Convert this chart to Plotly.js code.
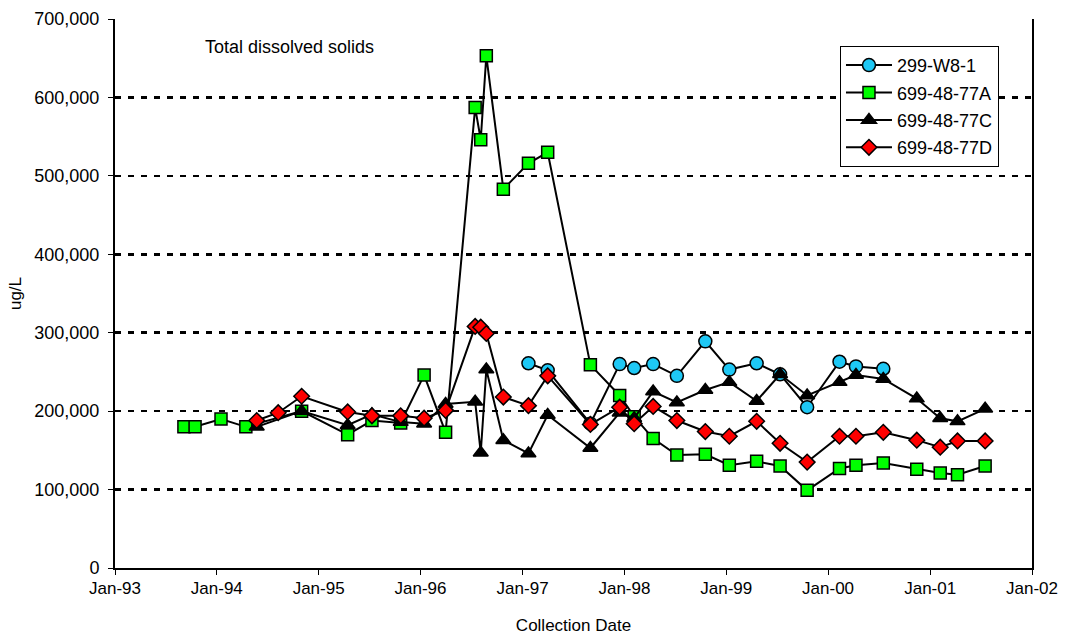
<!DOCTYPE html>
<html>
<head>
<meta charset="utf-8">
<script src="https://cdn.plot.ly/plotly-3.0.1.min.js"></script>
<style>html,body{margin:0;padding:0;background:#fff;}#chart{width:1065px;height:637px;}</style>
</head>
<body>
<div id="chart"></div>
<script>
// ---- data ----
const w81Dates = ['1997-01-22','1997-04-01','1997-09-01','1997-12-15','1998-02-05','1998-04-14','1998-07-08','1998-10-18','1999-01-12','1999-04-20','1999-07-13','1999-10-18','2000-02-11','2000-04-10','2000-07-17'];
const w81Values = [261000,252000,184000,260000,255000,260000,245000,289000,253000,261000,247000,205000,263000,257000,254000];

const a77Dates = ['1993-09-05','1993-10-15','1994-01-16','1994-04-15','1994-11-01','1995-04-15','1995-07-11','1995-10-22','1996-01-14','1996-03-31','1996-07-15','1996-08-04','1996-08-24','1996-10-24','1997-01-22','1997-04-01','1997-09-01','1997-12-15','1998-02-05','1998-04-14','1998-07-08','1998-10-18','1999-01-12','1999-04-20','1999-07-13','1999-10-18','2000-02-11','2000-04-10','2000-07-17','2000-11-14','2001-02-06','2001-04-09','2001-07-17'];
const a77Values = [180000,180000,190000,180000,200000,170000,188000,185000,246000,173000,587000,546000,653000,483000,516000,530000,259000,220000,193000,165000,144000,145000,131000,136000,130000,99000,127000,131000,134000,126000,121000,119000,130000];

const c77Dates = ['1994-05-24','1994-11-01','1995-04-15','1995-07-11','1995-10-22','1996-01-14','1996-03-31','1996-07-15','1996-08-04','1996-08-24','1996-10-24','1997-01-22','1997-04-01','1997-09-01','1997-12-15','1998-02-05','1998-04-14','1998-07-08','1998-10-18','1999-01-12','1999-04-20','1999-07-13','1999-10-18','2000-02-11','2000-04-10','2000-07-17','2000-11-14','2001-02-06','2001-04-09','2001-07-17'];
const c77Values = [180000,200000,182000,196000,186000,184000,209000,212000,147000,253000,163000,146000,195000,153000,198000,191000,225000,211000,227000,237000,213000,247000,220000,237000,246000,241000,216000,191000,187000,203000];

const d77Dates = ['1994-05-24','1994-08-09','1994-11-01','1995-04-15','1995-07-11','1995-10-22','1996-01-14','1996-03-31','1996-07-15','1996-08-04','1996-08-24','1996-10-24','1997-01-22','1997-04-01','1997-09-01','1997-12-15','1998-02-05','1998-04-14','1998-07-08','1998-10-18','1999-01-12','1999-04-20','1999-07-13','1999-10-18','2000-02-11','2000-04-10','2000-07-17','2000-11-14','2001-02-06','2001-04-09','2001-07-17'];
const d77Values = [188000,198000,219000,199000,194000,194000,191000,201000,308000,307000,299000,218000,207000,245000,183000,205000,184000,206000,188000,174000,168000,187000,159000,135000,168000,168000,173000,163000,154000,162000,162000];

const seriesNames = ['299-W8-1','699-48-77A','699-48-77C','699-48-77D'];
const yTickVals = [0,100000,200000,300000,400000,500000,600000,700000];
const yTickText = ['0','100,000','200,000','300,000','400,000','500,000','600,000','700,000'];

// ---- chart ----
const FONT = 'Liberation Sans, Arial, sans-serif';
function tr(name, x, y, symbol, color, size) {
  return {
    type: 'scatter', mode: 'lines+markers', name: name, x: x, y: y,
    legendgroup: name,
    line: {color: '#000', width: 2},
    marker: {symbol: symbol, color: color, size: size, line: {color: '#000', width: 1.5}}
  };
}
const data = [
  tr(seriesNames[0], w81Dates, w81Values, 'circle', '#1ec8f5', 13),
  tr(seriesNames[1], a77Dates, a77Values, 'square', '#00ff00', 12),
  tr(seriesNames[2], c77Dates, c77Values, 'triangle-up', '#000000', 13),
  tr(seriesNames[3], d77Dates, d77Values, 'diamond', '#ff0000', 12)
];
const layout = {
  width: 1065, height: 637,
  margin: {l: 115, r: 33, t: 19, b: 69},
  paper_bgcolor: '#fff', plot_bgcolor: '#fff',
  font: {family: FONT, size: 17, color: '#000'},
  showlegend: true,
  legend: {
    x: 0.7906, y: 0.951, xanchor: 'left', yanchor: 'top',
    bgcolor: '#fff', bordercolor: '#000', borderwidth: 1,
    font: {family: FONT, size: 18, color: '#000'},
    traceorder: 'grouped', tracegroupgap: 1, itemwidth: 46
  },
  xaxis: {
    type: 'date',
    range: ['1993-01-01', '2002-01-01'],
    tick0: '1993-01-01', dtick: 'M12', tickformat: '%b-%y',
    showgrid: false, zeroline: false,
    showline: true, linecolor: '#000', linewidth: 2,
    ticks: 'outside', ticklen: 5, tickcolor: '#000', tickwidth: 1,
    ticklabelstandoff: -1,
    tickfont: {family: FONT, size: 17},
    title: {text: 'Collection Date', font: {family: FONT, size: 17}, standoff: 22}
  },
  yaxis: {
    range: [0, 700000],
    tickvals: yTickVals, ticktext: yTickText,
    showgrid: true, gridcolor: '#000', gridwidth: 2.5, griddash: '6px,7px',
    zeroline: false,
    showline: true, linecolor: '#000', linewidth: 2, mirror: true,
    ticks: 'outside', ticklen: 5, tickcolor: '#000', tickwidth: 1,
    ticklabelstandoff: 5,
    tickfont: {family: FONT, size: 18},
    title: {text: 'ug/L', font: {family: FONT, size: 17}, standoff: 8}
  },
  annotations: [{
    xref: 'paper', yref: 'paper', x: 0.096, y: 0.949,
    xanchor: 'left', yanchor: 'middle', showarrow: false,
    text: 'Total dissolved solids', font: {family: FONT, size: 18, color: '#000'}
  }]
};
Plotly.newPlot('chart', data, layout, {displayModeBar: false, staticPlot: true});
</script>
</body>
</html>
